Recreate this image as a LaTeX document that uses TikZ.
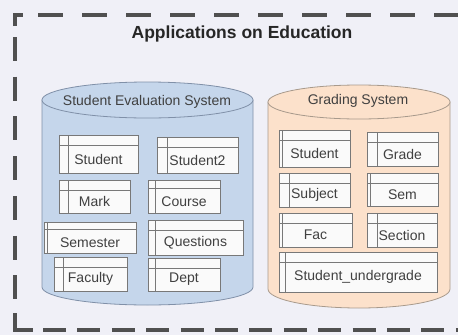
\documentclass[tikz,border=0pt]{standalone}
\usepackage{fontspec}
\setmainfont{Liberation Sans}
\definecolor{bgcol}{HTML}{F0F0F7}
\definecolor{framecol}{HTML}{505050}
\definecolor{sesfill}{HTML}{C5D6EB}
\definecolor{sesline}{HTML}{8090A8}
\definecolor{gsfill}{HTML}{FCE1CB}
\definecolor{gsline}{HTML}{A89A8C}
\definecolor{tblline}{HTML}{787878}
\definecolor{tblfill}{HTML}{FAFAFA}
\definecolor{txtcol}{HTML}{404040}
\tikzset{
  dashframe/.style={line width=3.3pt, framecol},
  tbl/.style 2 args={draw=tblline, fill=tblfill, line width=0.8pt, inner sep=0pt,
    path picture={
      \draw[tblline, line width=0.8pt] ([yshift=-#1]path picture bounding box.north west) -- ([yshift=-#1]path picture bounding box.north east);
      \draw[tblline, line width=0.8pt] ([xshift=#2]path picture bounding box.north west) -- ([xshift=#2]path picture bounding box.south west);
    }},
  tbltxt/.style={font=\fontsize{14}{16}\selectfont, text=txtcol, yshift=-5pt},
  dbtxt/.style={font=\fontsize{14}{16}\selectfont, text=txtcol},
}
\begin{document}
\begin{tikzpicture}[x=1pt, y=-1pt]
	\useasboundingbox (0,0) rectangle (458,335);
	\fill[bgcol] (0,0) rectangle (458,335);
	\begin{scope}
		\clip (0,0) rectangle (458,335);
		\draw[dashframe] (15,26) -- (15,15) -- (23,15);
		\draw[dashframe, dash pattern=on 25pt off 19pt] (38,15) -- (470,15);
		\draw[dashframe, dash pattern=on 24pt off 15.7pt] (15,37) -- (15,300);
		\draw[dashframe] (15,313) -- (15,330) -- (33,330);
		\draw[dashframe, dash pattern=on 23pt off 11.4pt] (43,330) -- (470,330);
	\end{scope}
	\node[font=\bfseries\fontsize{17.5}{20}\selectfont, text=black!85] (title) at (242,34) {Applications on Education};
	% student evaluation system
	\draw[sesline, fill=sesfill, line width=0.8pt] (42,100) -- (42,287) arc[start angle=180, end angle=0, x radius=105.5, y radius=18] -- (253,100) -- cycle;
	\draw[sesline, fill=sesfill, line width=0.8pt] (147.5,100) ellipse [x radius=105.5, y radius=18];
	\node[dbtxt] (ses) at (147,102) {Student Evaluation System};
	\node[tbl={10pt}{9pt}, minimum width=79pt, minimum height=38pt, label={[tbltxt]center:Student}] (sesStudent) at (98.5,154) {};
	\node[tbl={10pt}{10pt}, minimum width=81pt, minimum height=36pt, label={[tbltxt]center:Student2}] (sesStudentii) at (197.5,155) {};
	\node[tbl={10pt}{9pt}, minimum width=71pt, minimum height=33pt, label={[tbltxt]center:Mark}] (sesMark) at (94.5,196.5) {};
	\node[tbl={8pt}{7pt}, minimum width=72pt, minimum height=33pt, label={[tbltxt]center:Course}] (sesCourse) at (184,196.5) {};
	\node[tbl={7pt}{3pt}, minimum width=92pt, minimum height=31pt, label={[tbltxt]center:Semester}] (sesSemester) at (90,237.5) {};
	\node[tbl={10pt}{7pt}, minimum width=95pt, minimum height=35pt, label={[tbltxt]center:Questions}] (sesQuestions) at (195.5,237.5) {};
	\node[tbl={10pt}{9pt}, minimum width=73pt, minimum height=34pt, label={[tbltxt]center:Faculty}] (sesFaculty) at (90.5,274) {};
	\node[tbl={10pt}{7pt}, minimum width=72pt, minimum height=33pt, label={[tbltxt]center:Dept}] (sesDept) at (184,274.5) {};
	% grading system
	\draw[gsline, fill=gsfill, line width=0.8pt] (268,102) -- (268,289) arc[start angle=180, end angle=0, x radius=91, y radius=19] -- (450,102) -- cycle;
	\draw[gsline, fill=gsfill, line width=0.8pt] (359,102) ellipse [x radius=91, y radius=17];
	\node[dbtxt] (gs) at (358,101) {Grading System};
	\node[tbl={10pt}{3pt}, minimum width=71pt, minimum height=37pt, label={[tbltxt]center:Student}] (gsStudent) at (314.5,148.5) {};
	\node[tbl={10pt}{10pt}, minimum width=71pt, minimum height=34pt, label={[tbltxt]center:Grade}] (gsGrade) at (402.5,149) {};
	\node[tbl={10pt}{10pt}, minimum width=71pt, minimum height=34pt, label={[tbltxt]center:Subject}] (gsSubject) at (314.5,190) {};
	\node[tbl={10pt}{3pt}, minimum width=71pt, minimum height=33pt, label={[tbltxt]center:Sem}] (gsSem) at (402.5,189.5) {};
	\node[tbl={10pt}{3pt}, minimum width=73pt, minimum height=34pt, label={[tbltxt]center:Fac}] (gsFac) at (315.5,230) {};
	\node[tbl={10pt}{10pt}, minimum width=70pt, minimum height=34pt, label={[tbltxt]center:Section}] (gsSection) at (402,230) {};
	\node[tbl={10pt}{6pt}, minimum width=158pt, minimum height=40pt, label={[tbltxt]center:Student\_undergrade}] (gsUndergrade) at (358,272) {};
\end{tikzpicture}
\end{document}
